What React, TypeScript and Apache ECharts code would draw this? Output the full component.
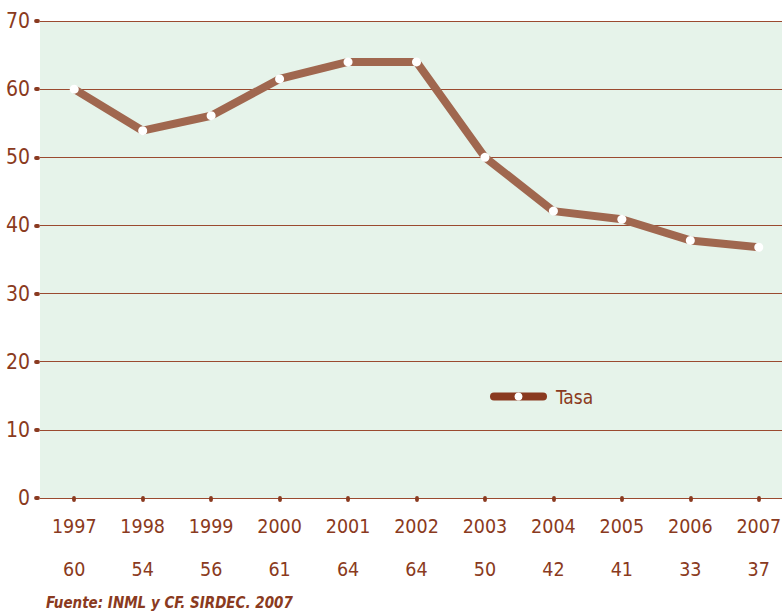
import React, { useEffect, useRef } from "react";
import * as echarts from "echarts";

const years = ["1997", "1998", "1999", "2000", "2001", "2002", "2003", "2004", "2005", "2006", "2007"];
const tasa = [60, 53.9, 56.1, 61.5, 64, 64, 50, 42.1, 40.9, 37.8, 36.8];
const tableValues = ["60", "54", "56", "61", "64", "64", "50", "42", "41", "33", "37"];
const seriesName = "Tasa";
const sourceText = "Fuente: INML y CF. SIRDEC. 2007";

const FONT = "'Liberation Sans Narrow', 'DejaVu Sans Condensed', sans-serif";
const TEXT = "#8A3A20";

export default function App() {
  const ref = useRef<HTMLDivElement>(null);
  useEffect(() => {
    if (!ref.current) return;
    const chart = echarts.init(ref.current, undefined, { renderer: "svg" });
    chart.setOption({
      animation: false,
      backgroundColor: "#ffffff",
      grid: { left: 40, top: 21, width: 753, height: 477, backgroundColor: "#E6F3EA", show: true, borderWidth: 0 },
      legend: {
        data: [seriesName],
        left: 490,
        top: 387,
        padding: 0,
        itemWidth: 49,
        itemHeight: 10,
        lineStyle: { color: "#8A3A20", width: 8, cap: "round" },
        itemStyle: { color: "#ffffff", borderWidth: 0 },
        textStyle: { color: TEXT, fontFamily: FONT, fontSize: 19, padding: [0, 0, 0, 8] },
      },
      xAxis: {
        type: "category",
        data: years,
        boundaryGap: true,
        offset: 2,
        axisLine: { show: false },
        axisTick: { show: true, alignWithLabel: true, length: 2, lineStyle: { color: TEXT, width: 3.8, cap: "round" } },
        splitLine: { show: false },
        axisLabel: {
          margin: 5,
          interval: 0,
          formatter: (v: string, i: number) => `{a|${v}}\n{b|${tableValues[i]}}`,
          rich: {
            a: { color: TEXT, fontFamily: FONT, fontSize: 19.5, lineHeight: 43 },
            b: { color: TEXT, fontFamily: FONT, fontSize: 19.5, lineHeight: 43 },
          },
        },
      },
      yAxis: {
        type: "value",
        min: 0,
        max: 70,
        interval: 10,
        offset: 2,
        axisLine: { show: false },
        axisTick: { show: true, length: 2, lineStyle: { color: TEXT, width: 3.8, cap: "round" } },
        axisLabel: { margin: 8, color: TEXT, fontFamily: FONT, fontSize: 21 },
        splitLine: { show: true, lineStyle: { color: "#9A4A30", width: 1.2 } },
      },
      series: [
        {
          name: seriesName,
          type: "line",
          data: tasa,
          symbol: "circle",
          symbolSize: 9,
          itemStyle: { color: "#ffffff", borderWidth: 0 },
          lineStyle: { color: "#A0674F", width: 8 },
          z: 3,
        },
      ],
      graphic: [
        {
          type: "text",
          left: 46,
          top: 595,
          style: {
            text: sourceText,
            fill: TEXT,
            font: `italic bold 15px ${FONT}`,
          },
        },
      ],
    });
    return () => chart.dispose();
  }, []);
  return (
    <div style={{ position: "fixed", left: 0, top: 0, width: 782, height: 615, overflow: "hidden", background: "#fff" }}>
      <div ref={ref} style={{ width: 800, height: 615 }} />
    </div>
  );
}
